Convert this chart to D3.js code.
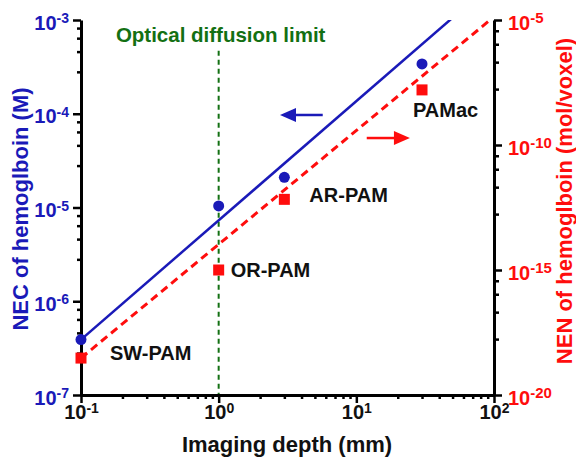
<!DOCTYPE html>
<html>
<head>
<meta charset="utf-8">
<script src="https://cdn.jsdelivr.net/npm/d3@7"></script>
<style>
  body { margin: 0; background: #fff; }
  svg { display: block; font-family: "Liberation Sans", Arial, sans-serif; font-weight: bold; }
</style>
</head>
<body>
<div id="chart"></div>
<script>
// imaging depth (mm) for each technique
const techniques = ["SW-PAM", "OR-PAM", "AR-PAM", "PAMac"];
const depthMm = [0.1, 1, 3, 30];
// noise-equivalent concentration (M), left axis
const necValues = [3.9e-7, 1.04e-5, 2.1e-5, 3.4e-4];
// noise-equivalent number (mol/voxel), right axis
const nenValues = [3.0e-19, 1.0e-15, 6.7e-13, 1.6e-8];
// fitted trend lines (end points, clipped to plot)
const necFit = [[0.1, 3.9e-7], [100, 2.55e-3]];
const nenFit = [[0.1, 3.0e-19], [100, 1.35e-5]];

const xMajor = [0.1, 1, 10, 100];
const xMajorExp = ["-1", "0", "1", "2"];
const yLeftMajor = [1e-7, 1e-6, 1e-5, 1e-4, 1e-3];
const yLeftExp = ["-7", "-6", "-5", "-4", "-3"];
const yRightMajor = [1e-20, 1e-15, 1e-10, 1e-5];
const yRightExp = ["-20", "-15", "-10", "-5"];
const minorSteps = [2.8, 4.6, 6.4, 8.2];

const blue = "#1a1ab8";
const red = "#ff0d0d";
const green = "#137013";

const W = 576, H = 463;
const svg = d3.select("#chart").append("svg")
  .attr("width", W).attr("height", H);

// === scales ===
const x = d3.scaleLog().domain([0.1, 100]).range([81, 494]);
const yL = d3.scaleLog().domain([1e-7, 1e-3]).range([395, 20]);
const yR = d3.scaleLog().domain([1e-20, 1e-5]).range([395, 20]);

// minor tick values
const xMinor = [];
[-1, 0, 1].forEach(k => { for (let m = 2; m <= 9; m++) xMinor.push(m * Math.pow(10, k)); });
const yLeftMinor = [];
[-7, -6, -5, -4].forEach(k => minorSteps.forEach(m => yLeftMinor.push(m * Math.pow(10, k))));
const yRightMinor = [];
[-20, -15, -10].forEach(k => minorSteps.forEach(m => yRightMinor.push(Math.pow(10, k + 5 * Math.log10(m)))));

function superLabels(sel, exps, color, size, supSize) {
  sel.selectAll(".tick text").each(function(d, i) {
    const t = d3.select(this);
    t.text(null)
      .attr("fill", color)
      .style("font-size", size + "px")
      .style("font-weight", "bold");
    t.append("tspan").text("10");
    t.append("tspan").attr("dy", "-0.45em").style("font-size", supSize + "px").text(exps[i]);
  });
}

function styleAxis(g) {
  g.select(".domain").attr("stroke", "#000").attr("stroke-width", 3);
  g.selectAll(".tick line").attr("stroke", "#000").attr("stroke-width", 2.5);
}

// === x axis ===
const gxMinor = svg.append("g").attr("transform", `translate(0,${yL.range()[0]})`)
  .call(d3.axisBottom(x).tickValues(xMinor).tickSize(4).tickSizeOuter(0).tickFormat(""));
gxMinor.select(".domain").remove();
styleAxis(gxMinor);
const gx = svg.append("g").attr("transform", `translate(0,${yL.range()[0]})`)
  .call(d3.axisBottom(x).tickValues(xMajor).tickSize(8).tickSizeOuter(0).tickPadding(4).tickFormat(""));
styleAxis(gx);
superLabels(gx, xMajorExp, "#111", 20, 14);
gx.selectAll(".tick text").attr("dy", "0.62em").attr("text-anchor", "middle");

// === left axis ===
const gyMinor = svg.append("g").attr("transform", `translate(${x.range()[0]},0)`)
  .call(d3.axisLeft(yL).tickValues(yLeftMinor).tickSize(4).tickSizeOuter(0).tickFormat(""));
gyMinor.select(".domain").remove();
styleAxis(gyMinor);
const gy = svg.append("g").attr("transform", `translate(${x.range()[0]},0)`)
  .call(d3.axisLeft(yL).tickValues(yLeftMajor).tickSize(8).tickSizeOuter(0).tickPadding(4).tickFormat(""));
styleAxis(gy);
superLabels(gy, yLeftExp, blue, 20, 14);
gy.selectAll(".tick text").attr("dy", "0.45em");

// === right axis ===
const gyrMinor = svg.append("g").attr("transform", `translate(${x.range()[1]},0)`)
  .call(d3.axisRight(yR).tickValues(yRightMinor).tickSize(5).tickSizeOuter(0).tickFormat(""));
gyrMinor.select(".domain").remove();
styleAxis(gyrMinor);
const gyr = svg.append("g").attr("transform", `translate(${x.range()[1]},0)`)
  .call(d3.axisRight(yR).tickValues(yRightMajor).tickSize(8).tickSizeOuter(0).tickPadding(6).tickFormat(""));
styleAxis(gyr);
superLabels(gyr, yRightExp, red, 20, 15);
gyr.selectAll(".tick text").attr("dy", "0.45em");

// === axis titles ===
svg.append("text")
  .attr("x", 287).attr("y", 452)
  .attr("text-anchor", "middle")
  .style("font-size", "22px")
  .attr("fill", "#111")
  .text("Imaging depth (mm)");

svg.append("text")
  .attr("transform", "translate(28,209) rotate(-90)")
  .attr("text-anchor", "middle")
  .style("font-size", "22px")
  .attr("fill", blue)
  .text("NEC of hemoglboin (M)");

svg.append("text")
  .attr("transform", "translate(572,201) rotate(-90)")
  .attr("text-anchor", "middle")
  .style("font-size", "22px")
  .attr("fill", red)
  .text("NEN of hemoglboin (mol/voxel)");

// === plot area ===
svg.append("defs").append("clipPath").attr("id", "plot-clip")
  .append("rect")
    .attr("x", x.range()[0]).attr("y", yL.range()[1])
    .attr("width", x.range()[1] - x.range()[0])
    .attr("height", yL.range()[0] - yL.range()[1]);

// optical diffusion limit
svg.append("line")
  .attr("x1", x(1)).attr("x2", x(1))
  .attr("y1", yL(4.7e-4)).attr("y2", yL(1e-7) - 1)
  .attr("stroke", green).attr("stroke-width", 2)
  .attr("stroke-dasharray", "5,4");
svg.append("text")
  .attr("x", x(1) + 2).attr("y", 42)
  .attr("text-anchor", "middle")
  .style("font-size", "20.5px")
  .attr("fill", green)
  .text("Optical diffusion limit");

const plot = svg.append("g").attr("clip-path", "url(#plot-clip)");

plot.append("path")
  .datum(necFit)
  .attr("d", d3.line().x(d => x(d[0])).y(d => yL(d[1])))
  .attr("fill", "none").attr("stroke", blue).attr("stroke-width", 2.5);

plot.append("path")
  .datum(nenFit)
  .attr("d", d3.line().x(d => x(d[0])).y(d => yR(d[1])))
  .attr("fill", "none").attr("stroke", red).attr("stroke-width", 3)
  .attr("stroke-dasharray", "8,5");

// markers
svg.append("g").selectAll("circle")
  .data(depthMm)
  .join("circle")
    .attr("cx", d => x(d))
    .attr("cy", (d, i) => yL(necValues[i]))
    .attr("r", 5.5)
    .attr("fill", blue);

const sq = 11;
svg.append("g").selectAll("rect")
  .data(depthMm)
  .join("rect")
    .attr("x", d => x(d) - sq / 2)
    .attr("y", (d, i) => yR(nenValues[i]) - sq / 2)
    .attr("width", sq).attr("height", sq)
    .attr("fill", red);

// technique labels, offset from the NEN markers
const labelOffsets = [[29, 2], [12, 7], [25, 3], [-9, 27]];
svg.append("g").selectAll("text")
  .data(techniques)
  .join("text")
    .attr("x", (d, i) => x(depthMm[i]) + labelOffsets[i][0])
    .attr("y", (d, i) => yR(nenValues[i]) + labelOffsets[i][1])
    .style("font-size", "20px")
    .attr("fill", "#111")
    .text(d => d);

// axis pointer arrows
function arrow(x1, x2, y, color) {
  const dir = Math.sign(x2 - x1);
  svg.append("line")
    .attr("x1", x1).attr("x2", x2 - dir * 14)
    .attr("y1", y).attr("y2", y)
    .attr("stroke", color).attr("stroke-width", 2.5);
  svg.append("path")
    .attr("d", `M${x2},${y} L${x2 - dir * 16},${y - 7} L${x2 - dir * 16},${y + 7} Z`)
    .attr("fill", color);
}
arrow(x(5.7), x(2.79), yL(9.7e-5), blue);
arrow(x(11.9), x(24.5), yR(1.9e-10), red);
</script>
</body>
</html>
